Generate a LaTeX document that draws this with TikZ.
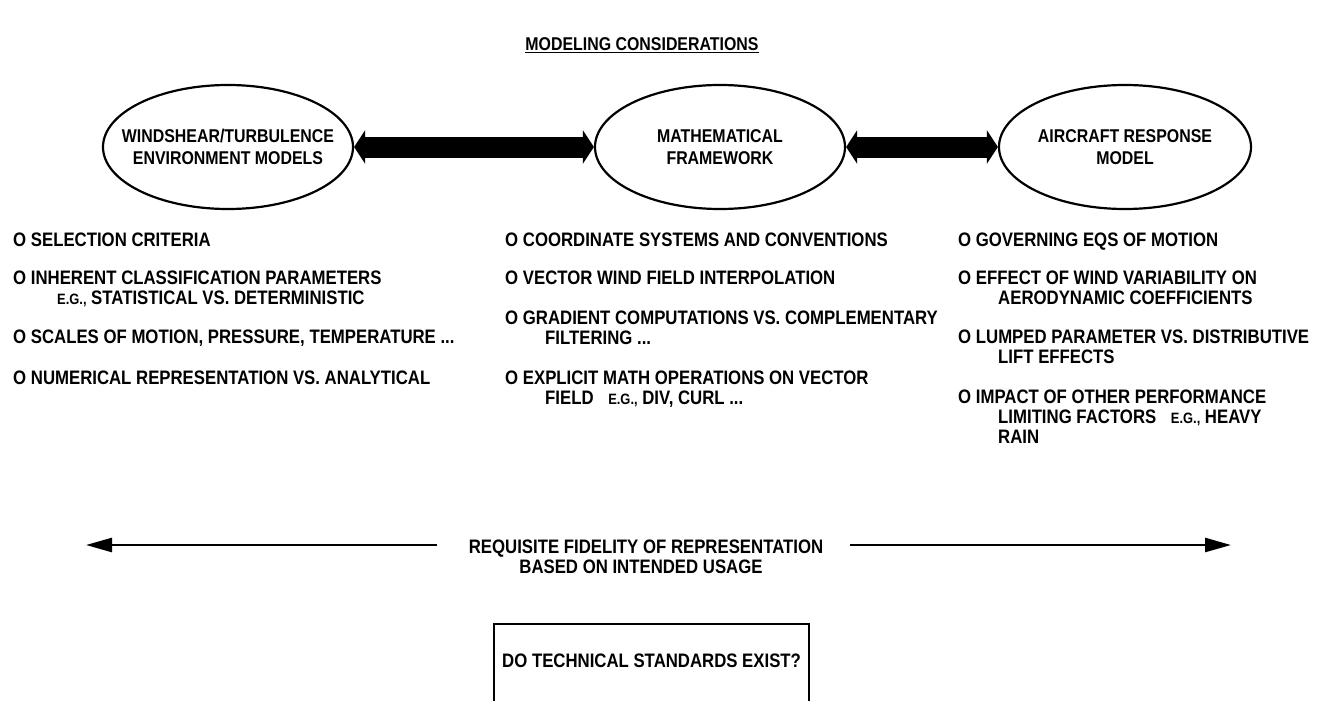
\documentclass[tikz,border=0pt]{standalone}
\usepackage{fontspec}
\setmainfont{Liberation Sans}[FakeStretch=0.86]
\usetikzlibrary{shapes.geometric,arrows.meta}
\begin{document}
\begin{tikzpicture}[x=1pt,y=-1pt,
  body/.style={font=\bfseries\fontsize{19.5}{20}\selectfont, inner sep=0pt, anchor=north west, align=left},
  ctr/.style={font=\bfseries\fontsize{18.5}{22}\selectfont, inner sep=0pt, align=center},
  ell/.style={draw, ellipse, line width=2.2pt, minimum width=250pt, minimum height=124pt, inner sep=0pt},
  big/.style={line width=21pt, {Triangle[width=33pt,length=11pt]}-{Triangle[width=33pt,length=11pt]}},
  fid/.style={line width=2.5pt, -{Triangle[width=14pt,length=26pt]}}]
\useasboundingbox (0,0) rectangle (1320,701);
\newcommand{\eg}{{\fontsize{15}{15}\selectfont E.G.,}}
% title
\node[ctr, anchor=base] (title) at (642,51) {\underline{MODELING CONSIDERATIONS}};
% ellipses
\node[ell] (e1) at (228,147) {};
\node[ell] (e2) at (720,147) {};
\node[ell, minimum width=252pt] (e3) at (1125,147) {};
\node[ctr] (t1) at (e1) {WINDSHEAR/TURBULENCE\\ENVIRONMENT MODELS};
\node[ctr] (t2) at (e2) {MATHEMATICAL\\FRAMEWORK};
\node[ctr] (t3) at (e3) {AIRCRAFT RESPONSE\\MODEL};
\draw[big] (e1) -- (e2);
\draw[big] (e2) -- (e3);
% left column
\node[body] (l1) at (13,233) {O SELECTION CRITERIA};
\node[body] (l2) at (13,271) {O INHERENT CLASSIFICATION PARAMETERS\\\hspace*{44pt}\eg{} STATISTICAL VS. DETERMINISTIC};
\node[body] (l3) at (13,330) {O SCALES OF MOTION, PRESSURE, TEMPERATURE ...};
\node[body] (l4) at (13,371) {O NUMERICAL REPRESENTATION VS. ANALYTICAL};
% middle column
\node[body] (m1) at (505,233) {O COORDINATE SYSTEMS AND CONVENTIONS};
\node[body] (m2) at (505,271) {O VECTOR WIND FIELD INTERPOLATION};
\node[body] (m3) at (505,311) {O GRADIENT COMPUTATIONS VS. COMPLEMENTARY\\\hspace*{40pt}FILTERING ...};
\node[body] (m4) at (505,371) {O EXPLICIT MATH OPERATIONS ON VECTOR\\\hspace*{40pt}FIELD\hspace*{10pt} \eg{} DIV, CURL ...};
% right column
\node[body] (r1) at (958,233) {O GOVERNING EQS OF MOTION};
\node[body] (r2) at (958,271) {O EFFECT OF WIND VARIABILITY ON\\\hspace*{40pt}AERODYNAMIC COEFFICIENTS};
\node[body] (r3) at (958,330) {O LUMPED PARAMETER VS. DISTRIBUTIVE\\\hspace*{40pt}LIFT EFFECTS};
\node[body] (r4) at (958,390) {O IMPACT OF OTHER PERFORMANCE\\\hspace*{40pt}LIMITING FACTORS\hspace*{10pt} \eg{} HEAVY\\\hspace*{40pt}RAIN};
% fidelity
\node[body, anchor=base] (q1) at (646,553) {REQUISITE FIDELITY OF REPRESENTATION};
\node[body, anchor=base] (q2) at (641,573) {BASED ON INTENDED USAGE};
\coordinate (qa) at (437,545);
\coordinate (qb) at (850,545);
\coordinate (qL) at (86,545);
\coordinate (qR) at (1231,545);
\draw[fid] (qa) -- (qL);
\draw[fid] (qb) -- (qR);
% box
\node[draw, line width=2.2pt, minimum width=315pt, minimum height=92pt, inner sep=0pt,
      anchor=north west] (box) at (493,623) {};
\node[body, anchor=base west] (bt) at (502,667) {DO TECHNICAL STANDARDS EXIST?};
\end{tikzpicture}
\end{document}
